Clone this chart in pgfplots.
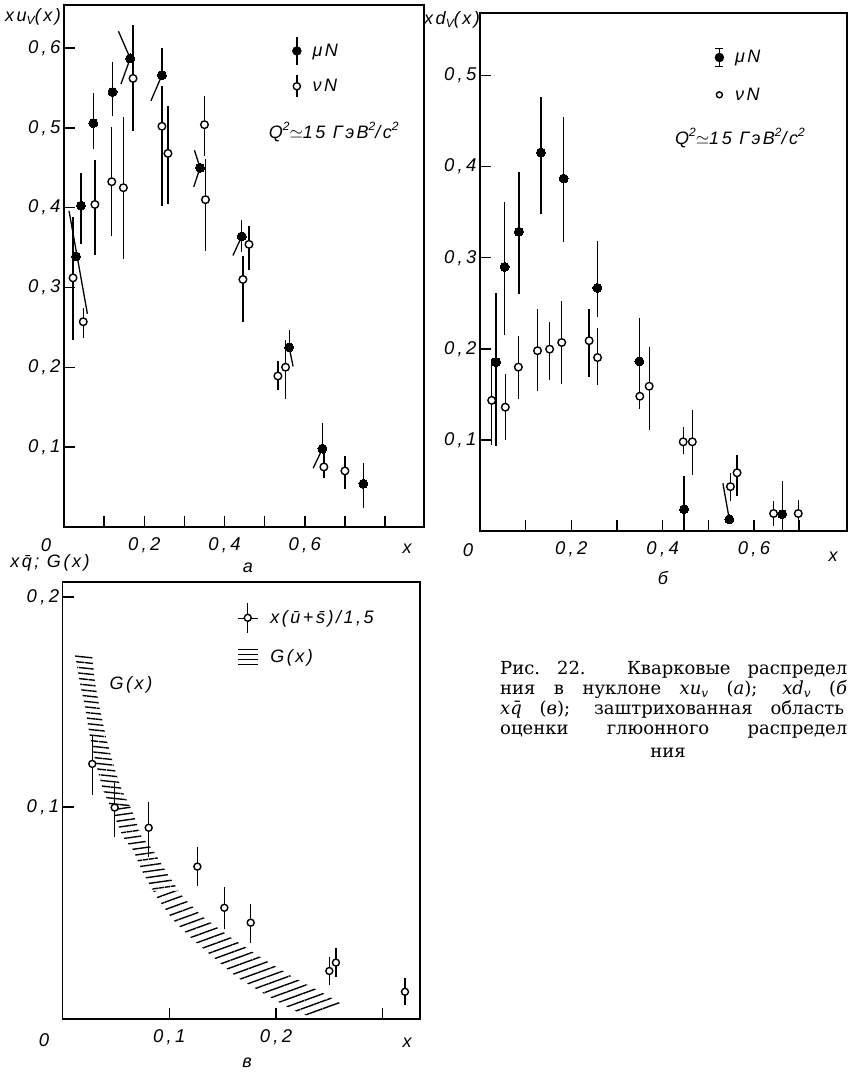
\documentclass[border=0pt]{standalone}
\usepackage{fontspec}
\usepackage{pgfplots}
\pgfplotsset{compat=1.18}
\usetikzlibrary{patterns.meta}
\setmainfont{Liberation Sans}
\newfontfamily\lab[LetterSpace=14]{Liberation Sans}
\newfontfamily\tck[LetterSpace=18]{Liberation Sans}
\newfontfamily\capfont{DejaVu Serif}
\newcommand{\lf}{\lab\itshape\fontsize{18}{19}\selectfont}
\newcommand{\tf}{\tck\itshape\fontsize{18.5}{19}\selectfont}
\newcommand{\cf}{\capfont\fontsize{18}{19}\selectfont}
\newcommand{\sub}[1]{\raisebox{-0.35ex}{\fontsize{12}{12}\selectfont #1}}
\newcommand{\super}[1]{\raisebox{0.8ex}{\fontsize{12}{12}\selectfont #1}}
\newcommand{\csub}[1]{\raisebox{-0.3ex}{\fontsize{12}{12}\selectfont\itshape #1}}
\pgfplotsset{
  panel/.style={
    scale only axis, anchor=south west, clip=false,
    axis line style={line width=1.6pt},
    tick pos=left, tick align=inside,
    major tick length=11pt,
    every tick/.style={black, line width=1.4pt},
    ticklabel style={font=\tf},
    xticklabel style={yshift=-7pt},
    legend cell align=left,
  },
  ebars/.style={error bars/y dir=both, error bars/y explicit, error bars/error mark=none,
    error bars/error bar style={line width=1.3pt, black}},
  filled/.style={only marks, mark=*, mark size=4.5pt,
    mark options={fill=black, draw=black, line width=0pt}, ebars},
  open/.style={only marks, mark=*, mark size=3.8pt,
    mark options={fill=white, draw=black, line width=1.4pt}, ebars},
  slant/.style={line width=1.3pt, black, no marks, unbounded coords=jump, forget plot},
}
\begin{document}
\begin{tikzpicture}[x=1pt,y=1pt]
\useasboundingbox (0,0) rectangle (849,1074);

% ---------------- panel a ----------------
\begin{axis}[panel, at={(64pt,547.2pt)}, width=360pt, height=521.8pt,
  xmin=0, xmax=0.897, ymin=0, ymax=0.654,
  xtick={0.1,0.2,0.3,0.4,0.5,0.6,0.7,0.8},
  xticklabels={{},{0,2},{},{0,4},{},{0,6},{},{}},
  ytick={0.1,0.2,0.3,0.4,0.5,0.6},
  yticklabels={{0,1},{0,2},{0,3},{0,4},{0,5},{0,6}},
  legend style={draw=none, fill=none, at={(axis cs:0.568,0.615)}, anchor=north west,
    font=\lf, row sep=9pt, column sep=9pt, inner sep=0pt},
]
\addplot[slant] coordinates {(0.0125,0.396)(0.0583,0.267) (0,nan)
 (0.1358,0.621)(0.165,0.587)(0.142,0.555) (0,nan)
 (0.2167,0.534)(0.244,0.566) (0,nan)
 (0.325,0.472)(0.339,0.450)(0.3233,0.426) (0,nan)
 (0.4208,0.34)(0.443,0.364) (0,nan)
 (0.561,0.225)(0.5708,0.201) (0,nan)
 (0.6208,0.0734)(0.644,0.098)};
\addplot[filled, legend image code/.code={\draw[line width=1.3pt] (0pt,-14pt)--(0pt,14pt); \fill (0pt,0pt) circle (4.5pt);}]
 coordinates {
 (0.03,0.339) += (0,0) -= (0,0)
 (0.0425,0.4025) += (0,0.0415) -= (0,0.0475)
 (0.073,0.506) += (0,0.038) -= (0,0.032)
 (0.121,0.545) += (0,0.038) -= (0,0.03)
 (0.165,0.587) += (0,0) -= (0,0)
 (0.244,0.566) += (0,0.034) -= (0,0)
 (0.339,0.450) += (0,0) -= (0,0)
 (0.443,0.364) += (0,0.02) -= (0,0.02)
 (0.561,0.225) += (0,0.022) -= (0,0)
 (0.644,0.098) += (0,0.032) -= (0,0)
 (0.746,0.054) += (0,0.026) -= (0,0.030)
};
\addlegendentry{μN}
\addplot[open, legend image code/.code={\draw[line width=1.3pt] (0pt,-11pt)--(0pt,11pt); \filldraw[fill=white, line width=1.4pt] (0pt,0pt) circle (3.6pt);}]
 coordinates {
 (0.0225,0.312) += (0,0.076) -= (0,0.078)
 (0.048,0.257) += (0,0.017) -= (0,0.021)
 (0.077,0.404) += (0,0.056) -= (0,0.063)
 (0.119,0.4325) += (0,0.068) -= (0,0.0675)
 (0.148,0.425) += (0,0.088) -= (0,0.089)
 (0.172,0.562) += (0,0.067) -= (0,0.066)
 (0.244,0.502) += (0,0.05) -= (0,0.10)
 (0.259,0.468) += (0,0.059) -= (0,0.064)
 (0.35,0.504) += (0,0.036) -= (0,0.039)
 (0.3525,0.41) += (0,0.051) -= (0,0.064)
 (0.4458,0.31) += (0,0.03) -= (0,0.053)
 (0.461,0.354) += (0,0.023) -= (0,0.032)
 (0.533,0.189) += (0,0.019) -= (0,0.017)
 (0.552,0.20) += (0,0.034) -= (0,0.04)
 (0.6475,0.075) += (0,0.017) -= (0,0.014)
 (0.70,0.07) += (0,0.019) -= (0,0.023)
};
\addlegendentry{νN}
\node[font=\lf] at (axis cs:0.672,0.495) {Q\super{2}$\simeq$15 ГэВ\super{2}/с\super{2}};
\end{axis}

% ---------------- panel b ----------------
\begin{axis}[panel, at={(480pt,542.9pt)}, width=367pt, height=518.1pt,
  xmin=0, xmax=0.8038, ymin=0, ymax=0.5687,
  xtick={0.1,0.2,0.3,0.4,0.5,0.6,0.7},
  xticklabels={{},{0,2},{},{0,4},{},{0,6},{}},
  ytick={0.1,0.2,0.3,0.4,0.5},
  yticklabels={{0,1},{0,2},{0,3},{0,4},{0,5}},
  legend style={draw=none, fill=none, at={(axis cs:0.5136,0.5303)}, anchor=north west,
    font=\lf, row sep=19pt, column sep=9pt, inner sep=0pt},
]
\addplot[slant] coordinates {(0.532,0.0525)(0.546,0.013)};
\addplot[filled, legend image code/.code={\draw[line width=1.3pt] (0pt,-8.7pt)--(0pt,8.7pt); \draw[line width=1.3pt] (-4pt,-8.7pt)--(4pt,-8.7pt); \draw[line width=1.3pt] (-4pt,8.7pt)--(4pt,8.7pt); \fill (0pt,0pt) circle (4.5pt);}]
 coordinates {
 (0.035,0.1855) += (0,0.0755) -= (0,0.0925)
 (0.054,0.29) += (0,0.071) -= (0,0.075)
 (0.0853,0.3286) += (0,0.066) -= (0,0.068)
 (0.1335,0.4156) += (0,0.061) -= (0,0.068)
 (0.183,0.387) += (0,0.067) -= (0,0.07)
 (0.257,0.267) += (0,0.051) -= (0,0.032)
 (0.349,0.1865) += (0,0.0475) -= (0,0.0385)
 (0.447,0.024) += (0,0.037) -= (0,0.024)
 (0.546,0.013) += (0,0) -= (0,0)
 (0.662,0.0186) += (0,0.036) -= (0,0.0186)
};
\addlegendentry{μN}
\addplot[open, error bars/error mark=-, error bars/error mark options={line width=1.3pt, mark size=5pt, black},
 legend image code/.code={\filldraw[fill=white, line width=1.4pt] (0pt,0pt) circle (3pt);}]
 coordinates {
 (0.0256,0.1435) += (0,0.040) -= (0,0.043)
 (0.0554,0.136) += (0,0.031) -= (0,0.030)
 (0.084,0.18) += (0,0.029) -= (0,0.030)
 (0.126,0.198) += (0,0.040) -= (0,0.039)
 (0.1525,0.1997) += (0,0.0243) -= (0,0.0281)
 (0.179,0.207) += (0,0.040) -= (0,0.040)
 (0.239,0.209) += (0,0.029) -= (0,0.034)
 (0.2575,0.1905) += (0,0.0265) -= (0,0.0245)
 (0.35,0.148) += (0,0.010) -= (0,0.008)
 (0.3705,0.159) += (0,0.038) -= (0,0.043)
 (0.445,0.098) += (0,0.0105) -= (0,0.0084)
 (0.465,0.098) += (0,0.029) -= (0,0.031)
 (0.5485,0.0488) += (0,0.0092) -= (0,0.0098)
 (0.563,0.064) += (0,0.014) -= (0,0.020)
 (0.643,0.0193) += (0,0.0084) -= (0,0.0087)
 (0.697,0.0193) += (0,0.0095) -= (0,0.0123)
};
\addlegendentry{νN}
\node[font=\lf] at (axis cs:0.5694,0.4315) {Q\super{2}$\simeq$15 ГэВ\super{2}/с\super{2}};
\end{axis}

% ---------------- panel v ----------------
\begin{axis}[panel, at={(62.6pt,54.9pt)}, width=357.4pt, height=437.1pt,
  xmin=0, xmax=0.335, ymin=-0.001, ymax=0.2071,
  xtick={0.1,0.2,0.3}, xticklabels={{0,1},{0,2},{}},
  ytick={0.1,0.2}, yticklabels={{0,1},{0,2}},
  reverse legend,
  legend style={draw=none, fill=none, at={(axis cs:0.1634,0.1976)}, anchor=north west,
    font=\lf, row sep=14pt, column sep=10pt, inner sep=0pt},
]
\addplot[draw=none, pattern={Lines[angle=-6,distance=5.5pt,line width=1.4pt]},
 legend image code/.code={\foreach \yy in {-7.5,-2.5,2.5,7.5}{\draw[line width=1.3pt] (-10pt,\yy pt)--(10pt,\yy pt);}}]
 coordinates {(0.0116,0.1724)(0.0163,0.1590)(0.0210,0.1476)(0.0257,0.1333)(0.0320,0.1190)(0.0379,0.1081)(0.0448,0.1)
 (0.0634,0.1)(0.0554,0.1081)(0.0491,0.1176)(0.0413,0.1319)(0.0351,0.1462)(0.0304,0.1590)(0.0276,0.1724)} -- cycle;
\addlegendentry{G(x)}
\addplot[draw=none, forget plot, pattern={Lines[angle=8,distance=6pt,line width=1.4pt]}]
 coordinates {(0.0448,0.1)(0.0473,0.0971)(0.0566,0.0857)(0.0660,0.0795)(0.0754,0.0686)(0.0850,0.06)
 (0.1090,0.06)(0.0976,0.0686)(0.0847,0.0795)(0.0741,0.0857)(0.0648,0.0986)(0.0634,0.1)} -- cycle;
\addplot[draw=none, forget plot, pattern={Lines[angle=20,distance=7pt,line width=1.4pt]}]
 coordinates {(0.0850,0.06)(0.0882,0.0571)(0.1035,0.0462)(0.1222,0.0367)(0.1444,0.0271)(0.1632,0.0190)(0.1878,0.0114)(0.2159,0.0033)(0.2321,0.0001)
 (0.2657,0.0049)(0.2440,0.0114)(0.2159,0.0190)(0.1850,0.0286)(0.1569,0.0381)(0.1316,0.0476)(0.1128,0.0571)(0.1090,0.06)} -- cycle;
\addplot[open, mark size=3.5pt,
 legend image code/.code={\path (-10pt,0pt)--(10pt,0pt); \draw[line width=1.3pt] (0pt,-15pt)--(0pt,15pt); \filldraw[fill=white, line width=1.4pt] (0pt,0pt) circle (3.5pt);}]
 coordinates {
 (0.0278,0.1205) += (0,0.0135) -= (0,0.0148)
 (0.0488,0.0997) += (0,0.0119) -= (0,0.0141)
 (0.0807,0.0901) += (0,0.0124) -= (0,0.0138)
 (0.1263,0.0716) += (0,0.0094) -= (0,0.0092)
 (0.1516,0.052) += (0,0.0098) -= (0,0.0102)
 (0.1763,0.0449) += (0,0.0091) -= (0,0.0098)
 (0.250,0.0219) += (0,0.0065) -= (0,0.0067)
 (0.2562,0.0259) += (0,0.0068) -= (0,0.0067)
 (0.3209,0.012) += (0,0.0064) -= (0,0.0063)
};
\addlegendentry{x(\={u}+\={s})/1,5}
\node[font=\lf] at (axis cs:0.0641,0.158) {G(x)};
\end{axis}

% ---------------- outside labels ----------------
\node[font=\lf] at (33,1057) {xu\sub{V}(x)};
\node[font=\tf] at (46,529) {0};
\node[font=\lf] at (407,525) {x};
\node[font=\lf] at (248,506) {а};

\node[font=\lf] at (452,1054) {xd\sub{V}(x)};
\node[font=\tf] at (468,524) {0};
\node[font=\lf] at (833,517) {x};
\node[font=\lf] at (663,496) {б};

\node[font=\lf] at (50,511) {x\={q}; G(x)};
\node[font=\tf] at (44,34) {0};
\node[font=\lf] at (407,31) {x};
\node[font=\lf] at (247,11) {в};

% ---------------- caption ----------------
\node[font=\cf, anchor=base west, inner sep=0pt] at (500,399) {\makebox[347pt][s]{Рис.\ 22. Кварковые распредел}};
\node[font=\cf, anchor=base west, inner sep=0pt] at (500,379) {\makebox[347pt][s]{ния в нуклоне \textit{xu}\csub{v} (\textit{а}); \textit{xd}\csub{v} (\textit{б}}};
\node[font=\cf, anchor=base west, inner sep=0pt] at (500,359) {\makebox[344pt][s]{\textit{x}\={\textit{q}} (\textit{в}); заштрихованная область}};
\node[font=\cf, anchor=base west, inner sep=0pt] at (500,339) {\makebox[347pt][s]{оценки глюонного распредел}};
\node[font=\cf, anchor=base, inner sep=0pt] at (668,316) {ния};
\end{tikzpicture}
\end{document}
